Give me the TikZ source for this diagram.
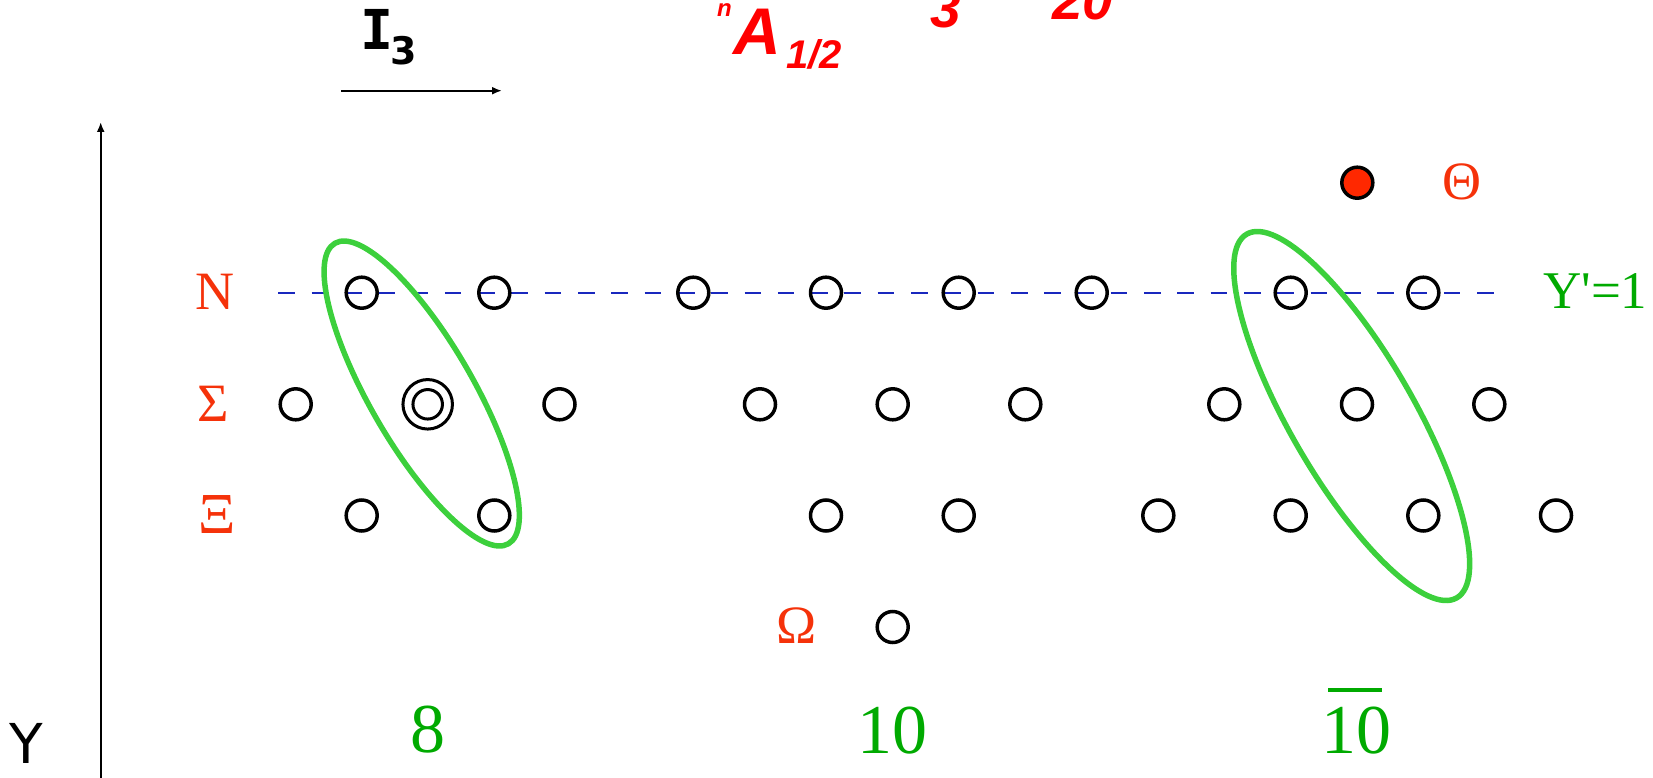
\documentclass[tikz,border=0pt]{standalone}
\usepackage{fontspec}
\setmainfont{Liberation Serif}
\newfontfamily\dejavu{DejaVu Sans}
\newfontfamily\dejamono{DejaVu Sans Mono}
\newfontfamily\handfont{Liberation Sans}
\usetikzlibrary{arrows.meta,shapes.geometric}
\definecolor{ellgreen}{RGB}{60,208,60}
\definecolor{labgreen}{RGB}{0,170,0}
\definecolor{labred}{RGB}{245,50,10}
\definecolor{dashblue}{RGB}{25,40,190}
\definecolor{fillred}{RGB}{255,40,0}
\definecolor{handred}{RGB}{255,0,0}
\begin{document}
\begin{tikzpicture}[x=1pt,y=-1pt,
  state/.style={circle, draw=black, line width=3.5pt, minimum size=31pt, inner sep=0pt},
  bigstate/.style={circle, draw=black, line width=3pt, minimum size=49.5pt, inner sep=0pt},
  smallstate/.style={circle, draw=black, line width=3pt, minimum size=29.5pt, inner sep=0pt},
  redstate/.style={state, fill=fillred},
  grk/.style={text=labred, inner sep=0pt, anchor=base, font=\fontsize{54}{60}\selectfont},
  multlab/.style={text=labgreen, inner sep=0pt, anchor=base, font=\fontsize{70}{80}\selectfont},
  grpell/.style={ellipse, draw=ellgreen, line width=5.5pt, inner sep=0pt, rotate=-60},
  dashline/.style={draw=dashblue, line width=2pt, dash pattern=on 16.6pt off 16.7pt},
  axisarrow/.style={draw=black, line width=2pt, -{Latex[length=10pt,width=8pt]}},
  hand/.style={text=handred, inner sep=0pt, anchor=base west}
]
\useasboundingbox (0,0) rectangle (1653,778);
\clip (0,0) rectangle (1653,778);

% handwritten red annotations (partly cut off at the top, as in the original)
\node[hand, font=\handfont\bfseries\itshape\fontsize{24}{26}\selectfont] (hn) at (717,17) {n};
\node[hand, font=\handfont\bfseries\itshape\fontsize{66}{70}\selectfont] (hA) at (733,55) {A};
\node[hand, font=\handfont\bfseries\itshape\fontsize{40}{44}\selectfont] (hhalf) at (786,69) {1/2};
\node[hand, font=\handfont\bfseries\itshape\fontsize{55}{60}\selectfont] (hthree) at (930,28) {3};
\node[hand, font=\handfont\bfseries\itshape\fontsize{55}{60}\selectfont] (htwenty) at (1052,20) {20};

% axes
\node[inner sep=0pt, anchor=base west, font=\dejamono\bfseries\fontsize{55}{60}\selectfont] (ilab) at (360,50)
  {I\kern-3pt{\dejavu\bfseries\fontsize{38}{40}\selectfont\raisebox{-15pt}{3}}};
\coordinate (ia) at (341,90.7);
\coordinate (ib) at (502,90.7);
\draw[axisarrow] (ia) -- (ib);
\coordinate (ya) at (100.7,780);
\coordinate (yb) at (100.7,122);
\draw[axisarrow] (ya) -- (yb);
\node[inner sep=0pt, anchor=base, font=\dejavu\fontsize{55}{60}\selectfont] (ylab) at (26.7,763) {Y};

% dashed Y'=1 line
\coordinate (dl) at (278.3,292.7);
\coordinate (dr) at (1498.3,292.7);
\draw[dashline] (dl) -- (dr);
\node[text=labgreen, inner sep=0pt, anchor=base west, font=\fontsize{53}{60}\selectfont] (yp) at (1543,308) {Y\textquotesingle=1};

% row labels
\node[grk] (lN) at (215,309.3) {N};
\node[grk] (lS) at (213.7,421.7) {Σ};
\node[grk, font=\fontsize{58}{60}\selectfont] (lX) at (217,533.3) {Ξ};
\node[grk] (lO) at (797,643) {Ω};
\node[grk] (lT) at (1462,200) {Θ};

% octet
\node[state] (o1) at (361.7,292.7) {};
\node[state] (o2) at (494.3,292.7) {};
\node[state] (o3) at (295.7,404.3) {};
\node[bigstate] (o4) at (427.7,404.3) {};
\node[smallstate] (o4i) at (427.7,404.3) {};
\node[state] (o5) at (559.5,404.3) {};
\node[state] (o6) at (361.7,515.5) {};
\node[state] (o7) at (494.3,515.5) {};

% decuplet
\node[state] (d1) at (693.3,292.7) {};
\node[state] (d2) at (826,292.7) {};
\node[state] (d3) at (958.7,292.7) {};
\node[state] (d4) at (1091.7,292.7) {};
\node[state] (d5) at (760,404.3) {};
\node[state] (d6) at (892.7,404.3) {};
\node[state] (d7) at (1025.3,404.3) {};
\node[state] (d8) at (826,515.5) {};
\node[state] (d9) at (958.7,515.5) {};
\node[state] (d10) at (892.7,627) {};

% antidecuplet
\node[redstate] (a0) at (1357.3,182.7) {};
\node[state] (a1) at (1290.7,292.7) {};
\node[state] (a2) at (1423.3,292.7) {};
\node[state] (a3) at (1224.3,404.3) {};
\node[state] (a4) at (1357,404.3) {};
\node[state] (a5) at (1489.3,404.3) {};
\node[state] (a6) at (1158.3,515.5) {};
\node[state] (a7) at (1290.7,515.5) {};
\node[state] (a8) at (1423.3,515.5) {};
\node[state] (a9) at (1556,515.5) {};

% green groupings
\node[grpell, minimum width=347pt, minimum height=103.4pt] (e1) at (421.7,393.5) {};
\node[grpell, minimum width=420pt, minimum height=124pt] (e2) at (1351.7,416) {};

% multiplet labels
\node[multlab] (m8) at (428,752) {8};
\node[multlab] (m10) at (892,753) {10};
\node[multlab] (m10b) at (1356,753) {10};
\draw[labgreen, line width=4.5pt] ([xshift=-28pt,yshift=63pt]m10b.base) -- ([xshift=26pt,yshift=63pt]m10b.base);
\end{tikzpicture}
\end{document}
